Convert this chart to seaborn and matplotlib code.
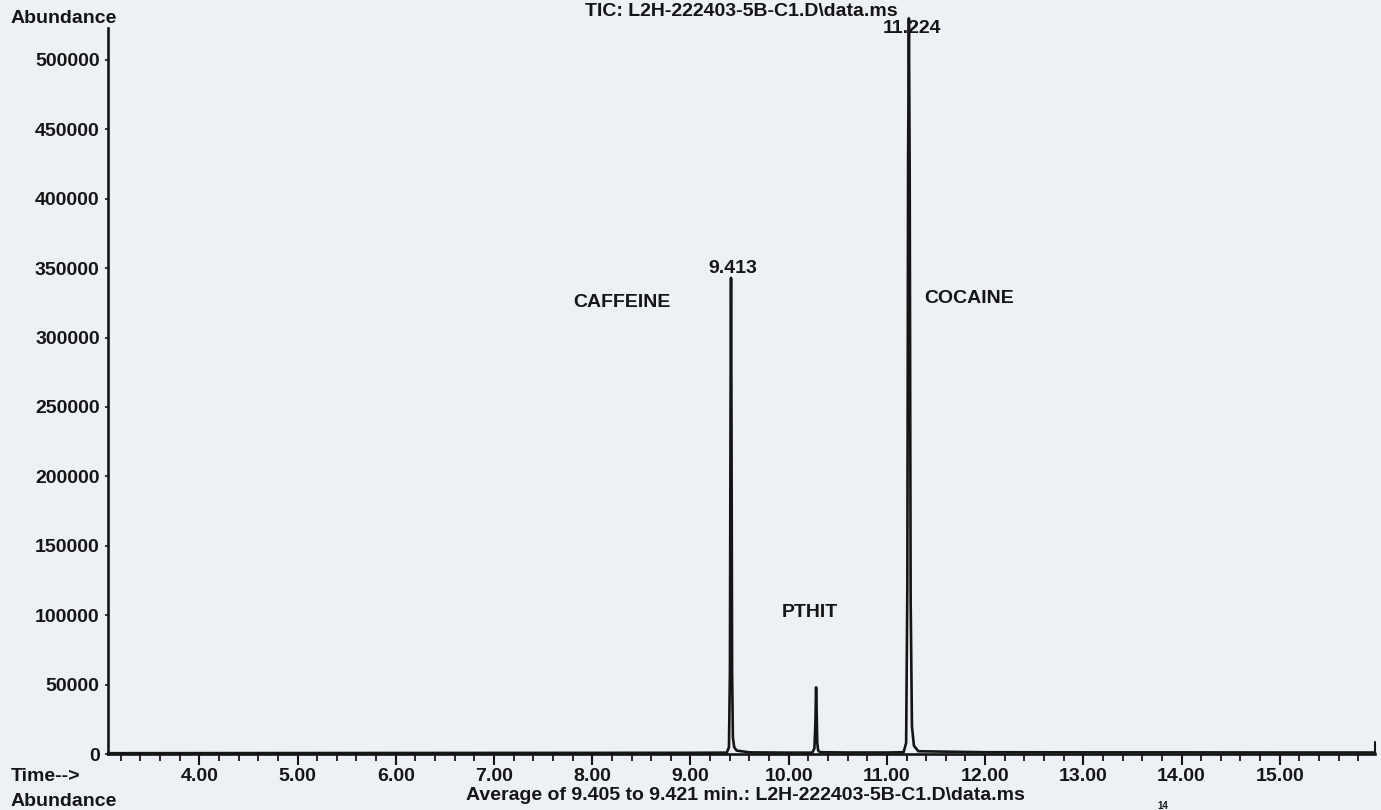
import matplotlib
matplotlib.use("Agg")
import matplotlib.pyplot as plt
from matplotlib.ticker import MultipleLocator, FixedLocator
import pandas as pd
import seaborn as sns

# Total ion chromatogram (retention time in minutes, abundance in counts)
time_min = [3.07, 4.00, 5.00, 6.00, 7.00, 8.00, 9.00, 9.37,
            9.392, 9.402, 9.408, 9.413, 9.418, 9.424, 9.432, 9.445, 9.47, 9.60,
            10.00, 10.24, 10.262, 10.272, 10.279, 10.285, 10.291, 10.30, 10.32, 10.60,
            11.00, 11.17, 11.196, 11.208, 11.216, 11.224, 11.232, 11.242, 11.255, 11.275, 11.32,
            12.00, 13.00, 14.00, 15.00, 15.97]
abundance = [600, 650, 700, 750, 800, 850, 900, 1000,
             5000, 60000, 250000, 343000, 240000, 60000, 12000, 5000, 2500, 1200,
             1000, 1000, 4000, 22000, 48000, 30000, 8000, 2500, 1300, 1100,
             1100, 1300, 8000, 120000, 430000, 530000, 420000, 110000, 20000, 6000, 2000,
             1300, 1200, 1200, 1100, 1100]

peak_times = [9.413, 10.28, 11.224]
peak_labels = ["9.413", None, "11.224"]
compound_names = ["CAFFEINE", "PTHIT", "COCAINE"]
compound_x = [8.30, 10.22, 11.84]
compound_y = [325000, 102000, 328500]

major_ticks = [4, 5, 6, 7, 8, 9, 10, 11, 12, 13, 14, 15]
major_labels = ["4.00", "5.00", "6.00", "7.00", "8.00", "9.00", "10.00",
                "11.00", "12.00", "13.00", "14.00", "15.00"]
y_ticks = list(range(0, 500001, 50000))

title = "TIC: L2H-222403-5B-C1.D\\data.ms"
footer = "Average of 9.405 to 9.421 min.: L2H-222403-5B-C1.D\\data.ms"

paper = "#edf0f4"
ink = "#151515"
fs = 14

sns.set_theme(style="ticks")
plt.rcParams["font.family"] = ["Liberation Sans", "DejaVu Sans"]
plt.rcParams["font.weight"] = "bold"

fig = plt.figure(figsize=(13.81, 8.10), dpi=100, facecolor=paper)
ax = fig.add_axes([0.0782, 0.0691, 0.9175, 0.8963])
ax.set_facecolor(paper)

df = pd.DataFrame({"time": time_min, "abundance": abundance})
sns.lineplot(data=df, x="time", y="abundance", ax=ax, color=ink,
             linewidth=1.9, clip_on=False, estimator=None)

ax.set_xlim(3.07, 15.97)
ax.set_ylim(0, 523000)
for s in ["top", "right"]:
    ax.spines[s].set_visible(False)
for s in ["left", "bottom"]:
    ax.spines[s].set_color(ink)
    ax.spines[s].set_linewidth(1.9)

ax.xaxis.set_major_locator(FixedLocator(major_ticks))
ax.set_xticklabels(major_labels)
ax.xaxis.set_minor_locator(MultipleLocator(0.2))
ax.tick_params(axis="x", which="major", length=8, width=1.5, color=ink,
               labelsize=fs, pad=2, labelcolor=ink)
ax.tick_params(axis="x", which="minor", length=5, width=1.3, color=ink)
ax.yaxis.set_major_locator(FixedLocator(y_ticks))
ax.set_yticklabels([str(v) for v in y_ticks])
ax.tick_params(axis="y", length=2, width=1.2, color=ink, labelsize=fs,
               pad=4, labelcolor=ink)
ax.set_xlabel("")
ax.set_ylabel("")

# small end cap at the right end of the time axis
ax.plot([15.97, 15.97], [0, 9000], color=ink, lw=1.5, clip_on=False)

# retention-time labels above the peaks
ax.annotate(peak_labels[0], xy=(peak_times[0], abundance[time_min.index(peak_times[0])]),
            xytext=(1, 1), textcoords="offset points", ha="center", va="bottom",
            fontsize=fs, color=ink, annotation_clip=False)
ax.annotate(peak_labels[2], xy=(peak_times[2], 523000), xytext=(2, 0),
            textcoords="offset points", ha="center", va="center",
            fontsize=fs, color=ink, annotation_clip=False)

for name, x, y in zip(compound_names, compound_x, compound_y):
    ax.text(x, y, name, ha="center", va="center", fontsize=fs, color=ink)

fig.text(0.0075, 0.977, "Abundance", ha="left", va="center", fontsize=fs, color=ink)
fig.text(0.537, 0.986, title, ha="center", va="center", fontsize=fs, color=ink)
fig.text(0.0075, 0.041, "Time-->", ha="left", va="center", fontsize=fs, color=ink)
fig.text(0.0075, 0.010, "Abundance", ha="left", va="center", fontsize=fs, color=ink)
fig.text(0.540, 0.018, footer, ha="center", va="center", fontsize=fs, color=ink)
fig.text(0.842, 0.0015, "14", ha="center", va="baseline", fontsize=7, color=ink)

fig.savefig("out.png", dpi=100, facecolor=paper)
